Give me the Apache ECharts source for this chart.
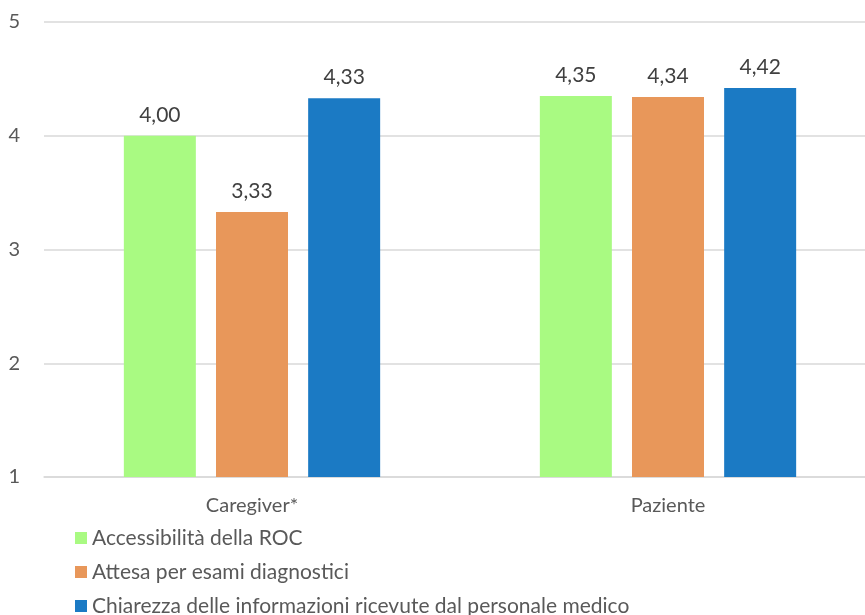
<!DOCTYPE html>
<html>
<head>
<meta charset="utf-8">
<script src="https://cdn.jsdelivr.net/npm/echarts@6/dist/echarts.min.js"></script>
<style>
	html, body { margin: 0; padding: 0; background: #fff; }
	#chart { width: 865px; height: 615px; }
</style>
</head>
<body>
<div id="chart"></div>
<script>
const categories = ["Caregiver*", "Paziente"];
const seriesNames = [
	"Accessibilità della ROC",
	"Attesa per esami diagnostici",
	"Chiarezza delle informazioni ricevute dal personale medico"
];
const accessibilita = [4.00, 4.35];
const attesa = [3.33, 4.34];
const chiarezza = [4.33, 4.42];
const colors = ["#A9FA82", "#E8975A", "#1B7AC4"];

const font = "Lato, 'Open Sans', sans-serif";
const fmt = v => v.toFixed(2).replace(".", ",");

const makeSeries = (name, values, color) => ({
	name,
	type: "bar",
	data: values,
	barWidth: 72,
	barGap: "28%",
	itemStyle: { color },
	label: {
		show: true,
		position: "top",
		distance: 10,
		color: "#404040",
		fontFamily: font,
		fontSize: 21,
		formatter: p => fmt(p.value)
	}
});

const chart = echarts.init(document.getElementById("chart"));
chart.setOption({
	animation: false,
	color: colors,
	grid: { left: 44, width: 832, top: 22, height: 455, outerBoundsMode: "none" },
	legend: {
		orient: "vertical",
		left: 70,
		top: 522,
		height: 120,
		itemWidth: 12,
		itemHeight: 12,
		itemGap: 12,
		icon: "rect",
		textStyle: { color: "#595959", fontFamily: font, fontSize: 21, lineHeight: 22 },
		data: seriesNames
	},
	xAxis: {
		type: "category",
		data: categories,
		axisLine: { lineStyle: { color: "#D9D9D9", width: 1.5 } },
		axisTick: { show: false },
		axisLabel: { color: "#595959", fontFamily: font, fontSize: 20, margin: 19 }
	},
	yAxis: {
		type: "value",
		min: 1,
		max: 5,
		interval: 1,
		axisLine: { show: false },
		axisTick: { show: false },
		splitLine: { lineStyle: { color: "#D9D9D9", width: 1.5 } },
		axisLabel: { color: "#595959", fontFamily: font, fontSize: 20, margin: 24 }
	},
	series: [
		makeSeries(seriesNames[0], accessibilita, colors[0]),
		makeSeries(seriesNames[1], attesa, colors[1]),
		makeSeries(seriesNames[2], chiarezza, colors[2])
	]
});
</script>
</body>
</html>
